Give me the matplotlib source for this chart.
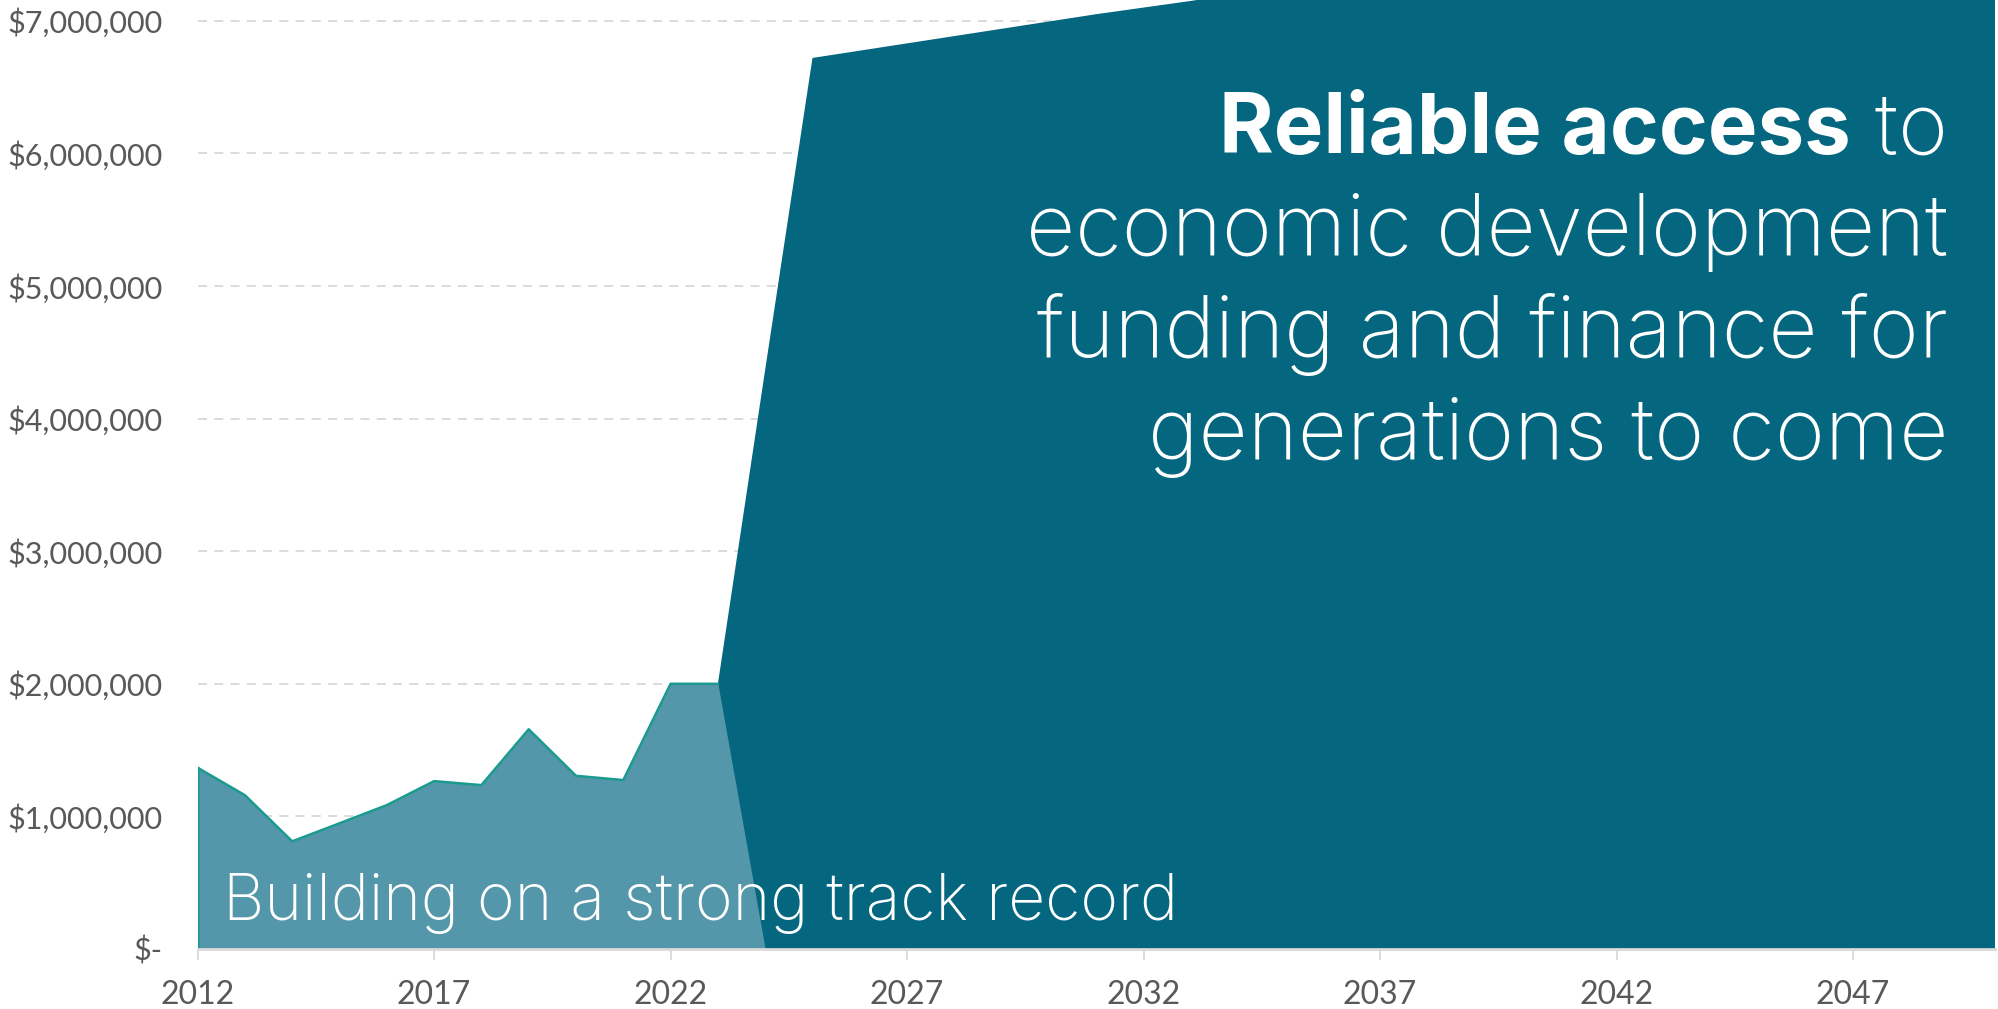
import numpy as np
import matplotlib.pyplot as plt
from matplotlib.ticker import FuncFormatter

# historical funding (light area)
hist_years = [2012, 2013, 2014, 2015, 2016, 2017, 2018, 2019, 2020, 2021, 2022, 2023, 2024]
hist_vals = [1367000, 1160000, 812000, 948000, 1085000, 1266000, 1236000,
             1657000, 1306000, 1274000, 2000000, 2000000, 0]

# projected access (dark area)
proj_years = list(range(2023, 2051))
proj_vals = [2000000, 4370000, 6720000, 6775000, 6830000, 6885000, 6940000,
             6995000, 7050000, 7100000, 7150000, 7205000, 7260000, 7315000,
             7370000, 7425000, 7480000, 7535000, 7590000, 7645000, 7700000,
             7755000, 7810000, 7865000, 7920000, 7975000, 8030000, 8085000]

y_ticks = [0, 1000000, 2000000, 3000000, 4000000, 5000000, 6000000, 7000000]
x_ticks = [2012, 2017, 2022, 2027, 2032, 2037, 2042, 2047]

dark = '#04677F'
light = '#5597AA'
teal = '#1B9A8F'
grey_txt = '#595959'
grey_line = '#D9D9D9'

plt.rcParams['font.family'] = ['Lato', 'DejaVu Sans']
head_font = ['Inter', 'Lato', 'DejaVu Sans']

fig = plt.figure(figsize=(19.99, 10.09), dpi=100)
ax = fig.add_axes([197.6 / 1999, 60 / 1009, (1995 - 197.6) / 1999, 949 / 1009])

# gridlines behind everything
for v in y_ticks[1:]:
    ax.axhline(v, color=grey_line, lw=1.3, ls=(0, (5, 4)), zorder=0)

ax.fill_between(proj_years, proj_vals, 0, color=dark, lw=0, zorder=1)
ax.fill_between(hist_years, hist_vals, 0, color=light, lw=0, zorder=2)
ax.plot(hist_years[:-1], hist_vals[:-1], color=teal, lw=1.8, zorder=3)
ax.plot([hist_years[0], hist_years[0]], [0, hist_vals[0]], color=teal, lw=1.8, zorder=3)

ax.set_xlim(2012, 2050)
ax.set_ylim(0, 7157000)
ax.set_xticks(x_ticks)
ax.set_yticks(y_ticks)


def money(v, pos):
    if v == 0:
        return '$-'
    return '${:,.0f}'.format(v)


ax.yaxis.set_major_formatter(FuncFormatter(money))
for s in ['top', 'right', 'left']:
    ax.spines[s].set_visible(False)
ax.spines['bottom'].set_color(grey_line)
ax.spines['bottom'].set_linewidth(2)
ax.spines['bottom'].set_zorder(4)
ax.tick_params(axis='y', length=0, pad=25, labelsize=22, labelcolor=grey_txt)
ax.tick_params(axis='x', length=8, width=1.3, color=grey_line, pad=14,
               labelsize=23, labelcolor=grey_txt)

# annotations
fig.text(223 / 1999, 1 - 920 / 1009, 'Building on a strong track record',
         color='white', fontsize=46.3, fontweight='light', family=head_font,
         ha='left', va='baseline')

right_x = 1948 / 1999
lines = ['economic development', 'funding and finance for', 'generations to come']
baselines = [255, 357, 459]
for txt, b in zip(lines, baselines):
    fig.text(right_x, 1 - b / 1009, txt, color='white', fontsize=61.5,
             fontweight='light', family=head_font, ha='right', va='baseline')

t_to = fig.text(right_x, 1 - 153 / 1009, ' to', color='white', fontsize=61.5,
                fontweight='light', family=head_font, ha='right', va='baseline')
fig.canvas.draw()
bb = t_to.get_window_extent()
fig.text(bb.x0 / 1999, 1 - 153 / 1009, 'Reliable access', color='white',
         fontsize=60, fontweight='bold', family=head_font, ha='right', va='baseline')

fig.savefig('out.png', dpi=100)
